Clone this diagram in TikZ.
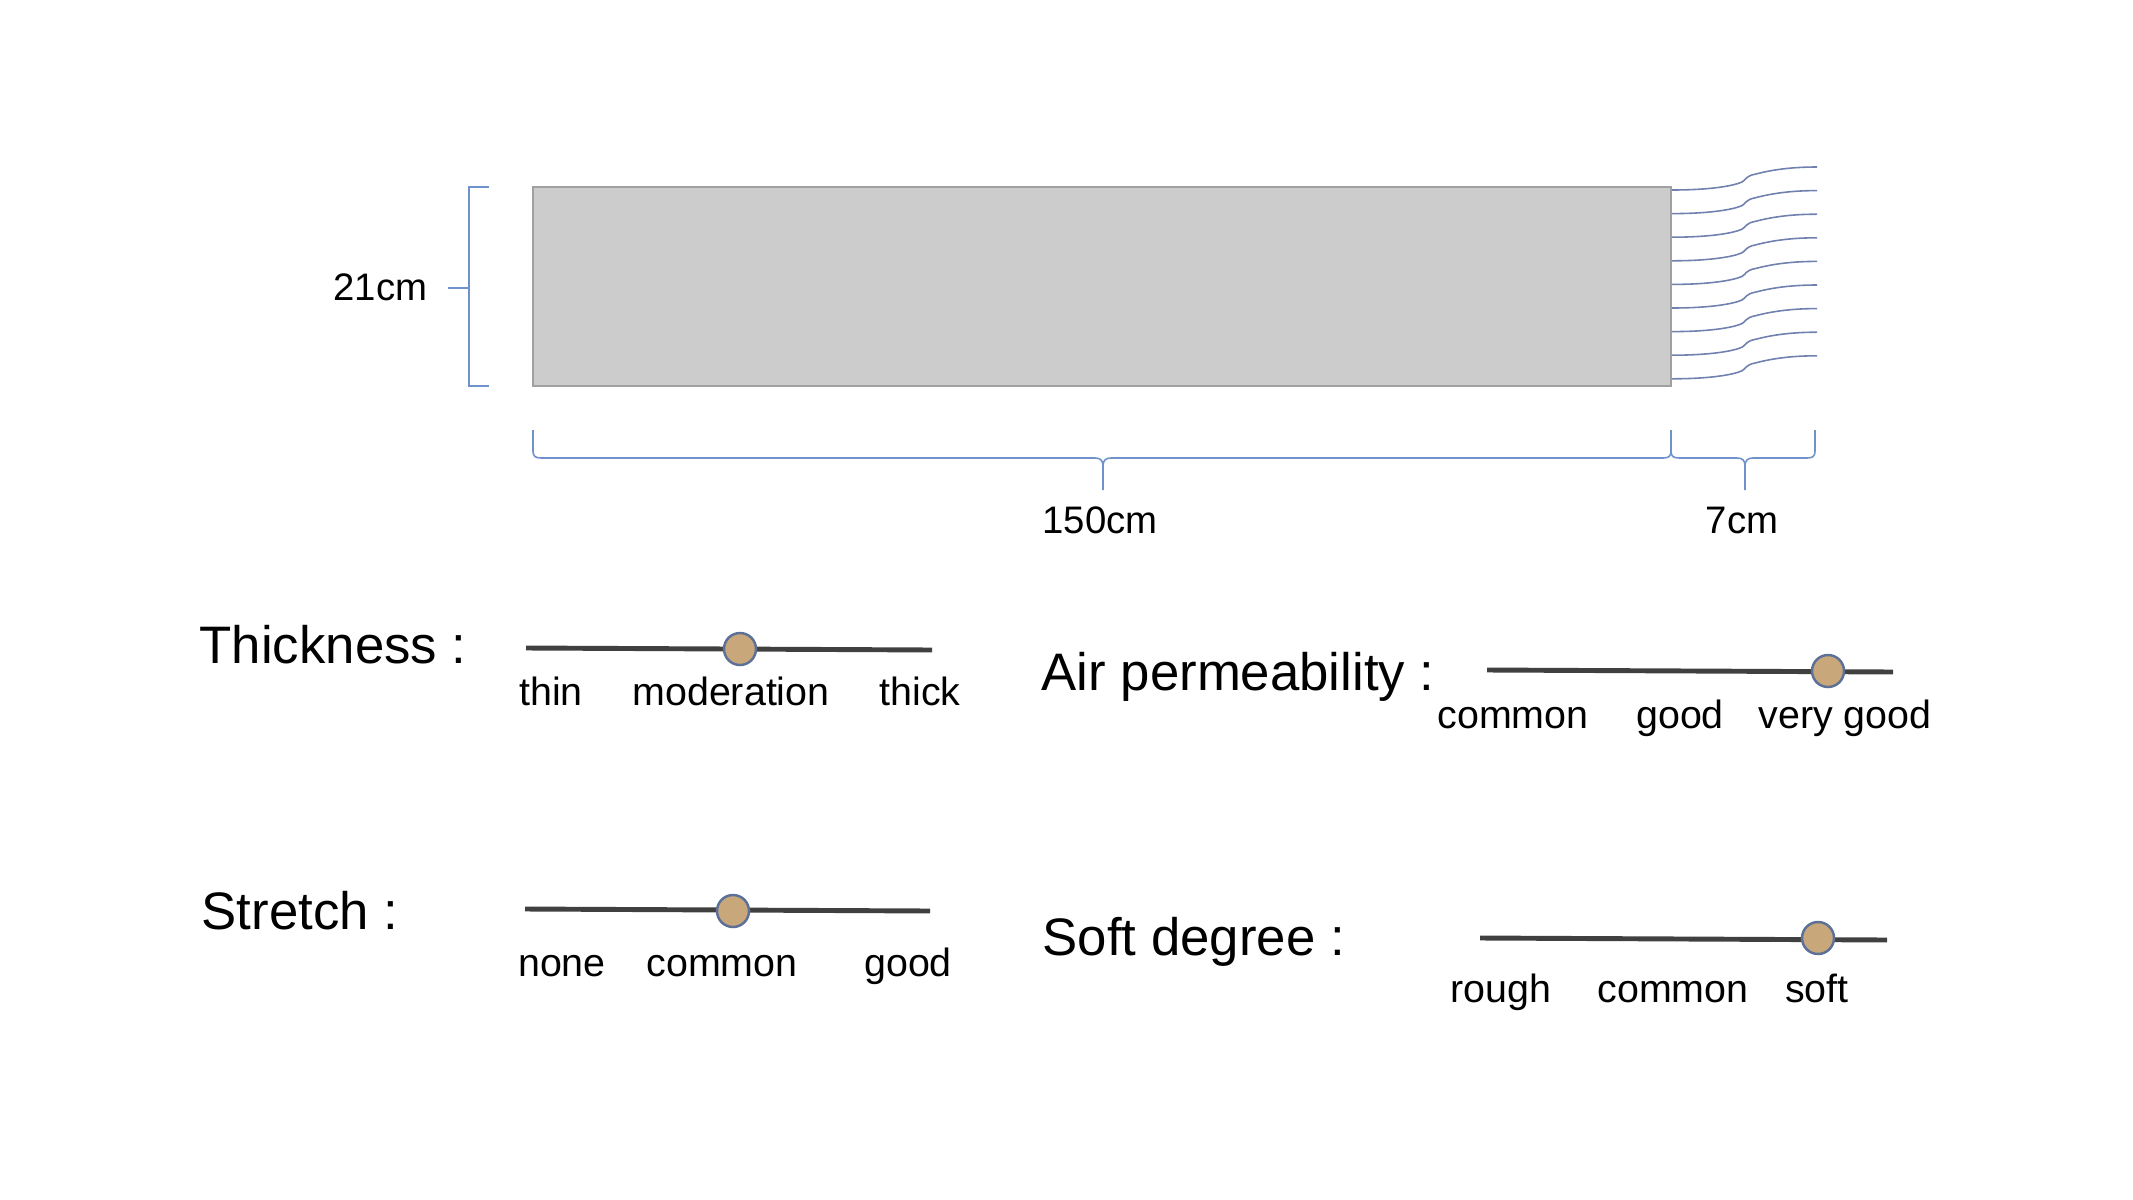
\documentclass[tikz,border=0pt]{standalone}
\usepackage{fontspec}
\setmainfont{Liberation Sans}
\definecolor{brcol}{RGB}{112,146,204}
\definecolor{frcol}{RGB}{112,128,175}
\definecolor{barcol}{RGB}{64,64,64}
\definecolor{knobfill}{RGB}{200,167,122}
\definecolor{knobdraw}{RGB}{92,112,152}
\definecolor{clothfill}{RGB}{204,204,204}
\definecolor{clothdraw}{RGB}{160,160,160}
\tikzset{
  title/.style={anchor=base west, inner sep=0pt, font=\fontsize{15}{18}\selectfont},
  lab/.style={anchor=base, inner sep=0pt, font=\fontsize{11.2}{13}\selectfont},
  dim/.style={anchor=base, inner sep=0pt, font=\fontsize{10.9}{13}\selectfont},
  bar/.style={draw=barcol, line width=1.4pt},
  knob/.style={circle, fill=knobfill, draw=knobdraw, line width=0.7pt, minimum size=0.32cm, inner sep=0pt},
  brace/.style={draw=brcol, line width=0.45pt},
  fringe/.style={draw=frcol, line width=0.45pt}
}
\begin{document}
\begin{tikzpicture}[x=0.01cm, y=-0.01cm]
\useasboundingbox (0,0) rectangle (2133,1200);
% cloth
\draw[fill=clothfill, draw=clothdraw, line width=0.6pt] (533,187) rectangle (1671,386);
% fringe
\foreach \k in {0,...,8} {
  \pgfmathsetmacro{\yy}{190+23.6*\k}
  \draw[fringe] (1672,\yy) .. controls (1710,\yy) and (1733,\yy-4) .. (1742,\yy-8)
     .. controls (1746,\yy-10) and (1745,\yy-14) .. (1756,\yy-16)
     .. controls (1775,\yy-21) and (1795,\yy-23) .. (1817,\yy-23);
}
% 21cm bracket
\coordinate (vt) at (489,187);
\coordinate (vb) at (489,386);
\coordinate (vm) at (469,288);
\draw[brace] (vt) -- (469,187) -- (469,386) -- (vb);
\draw[brace] (vm) -- (448,288);
\node[dim, anchor=base east] (h21) at (428,300) {21cm};
% 150cm brace
\coordinate (b1) at (533,430);
\coordinate (b2) at (1671,430);
\coordinate (b3) at (1815,430);
\coordinate (t1) at (1103,490);
\coordinate (t2) at (1745,490);
\draw[brace] (b1) -- (533,451) .. controls (533,456) and (535,458) .. (541,458) -- (1095,458)
   .. controls (1100,458) and (1103,460) .. (1103,466) -- (t1);
\draw[brace] (1103,466) .. controls (1103,460) and (1106,458) .. (1111,458) -- (1663,458)
   .. controls (1669,458) and (1671,456) .. (1671,451) -- (b2);
\draw[brace] (b2) -- (1671,451) .. controls (1671,456) and (1673,458) .. (1679,458) -- (1737,458)
   .. controls (1742,458) and (1745,460) .. (1745,466) -- (t2);
\draw[brace] (1745,466) .. controls (1745,460) and (1748,458) .. (1753,458) -- (1807,458)
   .. controls (1813,458) and (1815,456) .. (1815,451) -- (b3);
\node[dim] (w150) at (1100,533) {150cm};
\node[dim] (w7) at (1742,533) {7cm};
% Thickness
\node[title] (tth) at (199,663) {Thickness :};
\coordinate (th1) at (526,648);
\coordinate (th2) at (932,650);
\draw[bar] (th1) -- (th2);
\node[knob] (kth) at (740,649) {};
\node[lab] (th-a) at (551,705) {thin};
\node[lab] (th-b) at (731,705) {moderation};
\node[lab] (th-c) at (920,705) {thick};
% Air permeability
\node[title] (tair) at (1041,690) {Air permeability :};
\coordinate (ai1) at (1487,670);
\coordinate (ai2) at (1893,672);
\draw[bar] (ai1) -- (ai2);
\node[knob] (kai) at (1828,671) {};
\node[lab] (ai-a) at (1513,728) {common};
\node[lab] (ai-b) at (1680,728) {good};
\node[lab] (ai-c) at (1845,728) {very good};
% Stretch
\node[title] (tst) at (201,929) {Stretch :};
\coordinate (st1) at (525,909);
\coordinate (st2) at (930,911);
\draw[bar] (st1) -- (st2);
\node[knob] (kst) at (733,911) {};
\node[lab] (st-a) at (562,976) {none};
\node[lab] (st-b) at (722,976) {common};
\node[lab] (st-c) at (908,976) {good};
% Soft degree
\node[title] (tso) at (1042,955) {Soft degree :};
\coordinate (so1) at (1480,938);
\coordinate (so2) at (1887,940);
\draw[bar] (so1) -- (so2);
\node[knob] (kso) at (1818,938) {};
\node[lab] (so-a) at (1501,1002) {rough};
\node[lab] (so-b) at (1673,1002) {common};
\node[lab] (so-c) at (1817,1002) {soft};
\end{tikzpicture}
\end{document}
